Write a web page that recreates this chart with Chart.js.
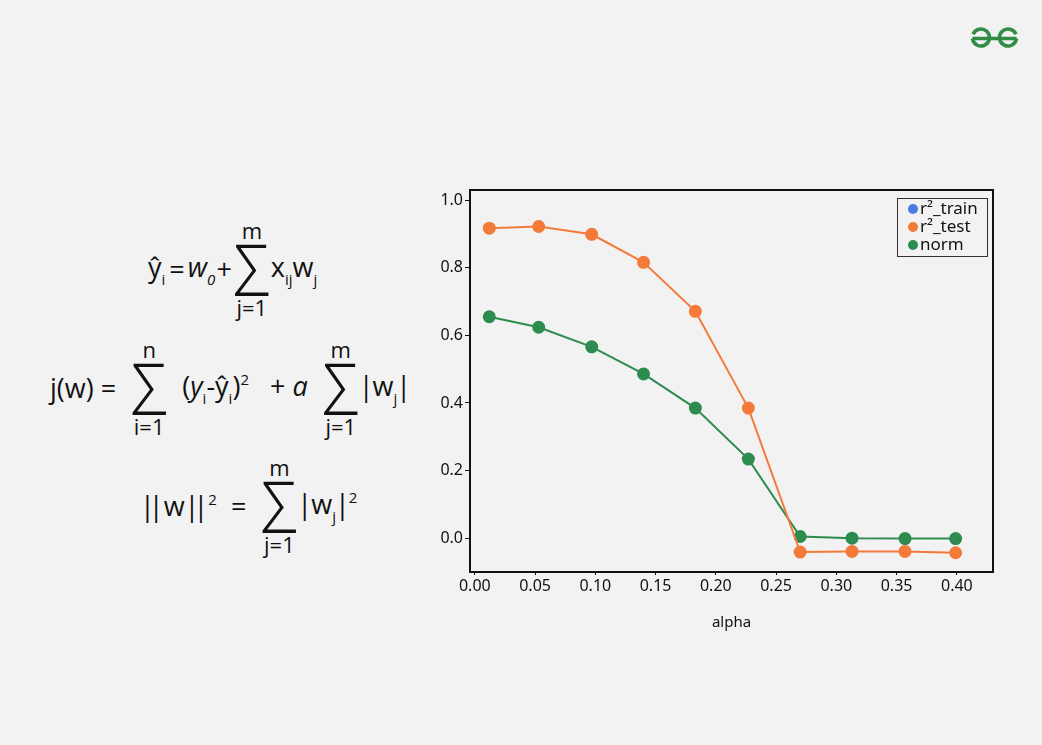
<!DOCTYPE html>
<html>
<head>
<meta charset="utf-8">
<script src="https://cdn.jsdelivr.net/npm/chart.js@4.4.0/dist/chart.umd.min.js"></script>
<style>
  html, body { margin: 0; padding: 0; }
  body { width: 1042px; height: 745px; background: #f2f2f2; position: relative; overflow: hidden;
         font-family: 'Open Sans', 'Noto Sans', sans-serif; color: #111; }
  #logo { position: absolute; left: 966px; top: 24px; }
  .f { position: absolute; display: flex; align-items: center; font-size: 27px; white-space: nowrap; transform: translateY(-50%); }
  .sum { display: inline-flex; flex-direction: column; align-items: center; line-height: 1; margin: 0 2px; }
  .sum .lim { font-size: 22px; line-height: 24px; }
  .sum .hi { margin-bottom: 2px; }
  .sum .lo { margin-top: 1px; }
  .sum .sig { font-family: 'Noto Sans CJK SC', sans-serif; font-weight: 300; font-size: 56px; line-height: 50px; height: 50px;
              width: 34px; display: flex; justify-content: center; transform: translateY(-3px) scaleY(1.25); }
  sub, sup { font-size: 15px; }
  sub { vertical-align: -8px; }
  sup { vertical-align: 11px; }
  .it { font-style: italic; }
  .p { letter-spacing: -6px; margin-right: 6px; }
  .p1 { margin: 0 -1px; }
  #wrap { position: absolute; left: 420px; top: 175px; width: 600px; height: 475px; }
</style>
</head>
<body>
<svg id="logo" width="54" height="30" viewBox="966 24 54 30">
  <g fill="none" stroke="#2f8d46" stroke-width="3.6" stroke-linecap="butt">
    <path d="M972.5,38.5 H1016.5"/>
    <path d="M973.1,34.2 A8.5,8.5 0 1 1 972.5,38.5"/>
    <path d="M1015.9,34.2 A8.5,8.5 0 1 0 1016.5,38.5"/>
  </g>
</svg>

<!-- formulas -->
<div class="f" style="left:148px; top:268px;">
  <span>ŷ<sub>i</sub></span><span style="margin:0 3px 0 4px;">=</span><span class="it">w<sub>0</sub></span><span style="margin:0 1px;">+</span>
  <span class="sum"><span class="lim hi">m</span><span class="sig">∑</span><span class="lim lo">j=1</span></span>
  <span>x<sub>ij</sub>w<sub>j</sub></span>
</div>
<div class="f" style="left:50px; top:387px;">
  <span>j(w) =&nbsp;&nbsp;</span>
  <span class="sum"><span class="lim hi">n</span><span class="sig">∑</span><span class="lim lo">i=1</span></span>
  <span>&nbsp;&nbsp;(<span class="it">y</span><sub>i</sub>-ŷ<sub>i</sub>)<sup>2</sup>&nbsp;&nbsp;&nbsp;+&nbsp;<span class="it">a</span>&nbsp;&nbsp;</span>
  <span class="sum"><span class="lim hi">m</span><span class="sig">∑</span><span class="lim lo">j=1</span></span>
  <span><span class="p1">|</span>w<sub>j</sub><span class="p1">|</span></span>
</div>
<div class="f" style="left:140px; top:505px;">
  <span><span class="p">||</span>w<span class="p">||</span><sup>2</sup>&nbsp;&nbsp;=&nbsp;&nbsp;</span>
  <span class="sum"><span class="lim hi">m</span><span class="sig">∑</span><span class="lim lo">j=1</span></span>
  <span><span class="p1">|</span>w<sub>j</sub><span class="p1">|</span><sup>2</sup></span>
</div>

<div id="wrap"><canvas id="chart"></canvas></div>

<script>
// 資料
const alphas = [0.012, 0.053, 0.097, 0.14, 0.183, 0.227, 0.27, 0.313, 0.357, 0.399];
const r2Train = [];
const r2Test = [0.917, 0.922, 0.899, 0.816, 0.671, 0.385, -0.041, -0.039, -0.039, -0.043];
const normVals = [0.655, 0.624, 0.566, 0.486, 0.385, 0.234, 0.005, 0.0, -0.001, -0.001];
const xTickValues = [0, 0.05, 0.10, 0.15, 0.20, 0.25, 0.30, 0.35, 0.40];
const yTickValues = [0, 0.2, 0.4, 0.6, 0.8, 1.0];
const seriesLabels = ['r\u00B2_train', 'r\u00B2_test', 'norm'];
const seriesColors = ['#4a7ddf', '#f47a3a', '#2e8b50'];

const toPoints = (ys) => ys.map((y, i) => ({ x: alphas[i], y: y }));

/**
 * 外框
 */
const framePlugin = {
  id: 'frame',
  afterDraw(chart) {
    const { ctx, chartArea: a } = chart;
    ctx.save();
    ctx.strokeStyle = '#111';
    ctx.lineWidth = 2;
    ctx.strokeRect(a.left, a.top, a.right - a.left, a.bottom - a.top);
    ctx.restore();
  }
};

/**
 * 圖例（圖內右上角）
 */
const boxLegendPlugin = {
  id: 'boxLegend',
  afterDraw(chart) {
    const { ctx, chartArea: a } = chart;
    const sets = chart.data.datasets;
    const rowH = 18;
    const boxW = 90, boxH = sets.length * rowH + 4;
    const x0 = a.right - 6 - boxW, y0 = a.top + 8;
    ctx.save();
    ctx.strokeStyle = '#333';
    ctx.lineWidth = 1;
    ctx.strokeRect(x0 + 0.5, y0 + 0.5, boxW, boxH);
    ctx.font = '17px "Noto Sans", sans-serif';
    ctx.textBaseline = 'middle';
    sets.forEach((ds, i) => {
      const cy = y0 + 11 + i * rowH;
      ctx.fillStyle = ds.borderColor;
      ctx.beginPath();
      ctx.arc(x0 + 16, cy, 5, 0, Math.PI * 2);
      ctx.fill();
      ctx.fillStyle = '#111';
      ctx.fillText(ds.label, x0 + 23, cy);
    });
    ctx.restore();
  }
};

const lineSet = (label, ys, color) => ({
  label: label,
  data: toPoints(ys),
  borderColor: color,
  backgroundColor: color,
  borderWidth: 2,
  pointRadius: 5.5,
  pointHoverRadius: 6,
  showLine: true,
  tension: 0
});

new Chart(document.getElementById('chart'), {
  type: 'scatter',
  data: {
    datasets: [
      lineSet(seriesLabels[0], r2Train, seriesColors[0]),
      lineSet(seriesLabels[1], r2Test, seriesColors[1]),
      lineSet(seriesLabels[2], normVals, seriesColors[2])
    ]
  },
  options: {
    responsive: true,
    maintainAspectRatio: false,
    animation: false,
    layout: { padding: { top: 15, right: 27, bottom: 10, left: 0 } },
    plugins: {
      legend: { display: false },
      tooltip: { enabled: false }
    },
    scales: {
      x: {
        type: 'linear',
        min: -0.004,
        max: 0.430,
        afterBuildTicks: (axis) => { axis.ticks = xTickValues.map(v => ({ value: v })); },
        afterFit: (axis) => { axis.height = 68; },
        ticks: {
          color: '#111',
          font: { family: 'Noto Sans', size: 16 },
          padding: 2,
          maxRotation: 0,
          callback: (v) => Number(v).toFixed(2)
        },
        grid: { drawOnChartArea: false, color: '#111', tickLength: 3 },
        border: { display: false },
        title: {
          display: true,
          text: 'alpha',
          color: '#111',
          font: { family: 'Noto Sans', size: 15 },
          padding: { top: 10, bottom: 8 }
        }
      },
      y: {
        type: 'linear',
        min: -0.10,
        max: 1.03,
        afterBuildTicks: (axis) => { axis.ticks = yTickValues.map(v => ({ value: v })); },
        afterFit: (axis) => { axis.width = 50; },
        ticks: {
          color: '#111',
          font: { family: 'Noto Sans', size: 16 },
          padding: 2,
          callback: (v) => Number(v).toFixed(1)
        },
        grid: { drawOnChartArea: false, color: '#111', tickLength: 5 },
        border: { display: false }
      }
    }
  },
  plugins: [framePlugin, boxLegendPlugin]
});
</script>
</body>
</html>
